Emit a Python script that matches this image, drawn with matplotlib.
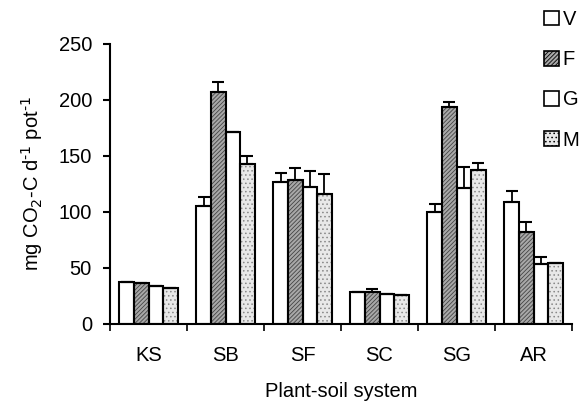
import matplotlib
matplotlib.use("Agg")
import matplotlib.pyplot as plt
import numpy as np
from matplotlib.patches import Patch

plt.rcParams['font.family'] = ['Liberation Sans', 'DejaVu Sans']
plt.rcParams['hatch.linewidth'] = 0.6

systems = ["KS", "SB", "SF", "SC", "SG", "AR"]
series = ["V", "F", "G", "M"]
V = [37.8, 105, 127, 28.3, 100.3, 109]
F = [36.6, 207, 128.6, 28.5, 194, 81.8]
G = [34, 171, 122, 27, 121.7, 53.3]
M = [32.4, 142.6, 115.8, 25.5, 137.5, 54.5]
V_err = [0, 8.7, 7.5, 0, 6.7, 10]
F_err = [0, 9, 11, 3, 4.5, 9]
G_err = [0, 0, 15, 0, 18, 6.7]
M_err = [0, 7.4, 18, 0, 6.5, 0]
yticks = [0, 50, 100, 150, 200, 250]

values = [V, F, G, M]
errors = [V_err, F_err, G_err, M_err]
faces = ['white', '#a8a8a8', 'white', '#e8e8e8']
hatches = [None, '////////', None, '....']
hatchcol = ['black', '#444444', 'black', '#888888']

fig = plt.figure(figsize=(5.79, 4.07), dpi=100)
ax = fig.add_axes([0.19, 0.204, 0.798, 0.688])

x = np.arange(len(systems)) + 0.5
w = 0.19
for i, (vals, errs) in enumerate(zip(values, errors)):
    pos = x + (i - 1.5) * w
    ax.bar(pos, vals, w, color=faces[i], edgecolor=hatchcol[i],
           hatch=hatches[i], linewidth=0, label=series[i], zorder=2)
    ax.bar(pos, vals, w, color='none', edgecolor='black', linewidth=1.5, zorder=3)
    e = np.array(errs)
    ax.errorbar(pos, vals, yerr=[np.zeros_like(e), e], fmt='none', ecolor='black',
                elinewidth=1.3, capsize=4, capthick=1.5, zorder=4)

ax.set_xlim(0, 6)
ax.set_ylim(0, 250)
ax.set_yticks(yticks)
ax.set_xticks(x)
ax.set_xticklabels(systems)
ax.set_xticks(np.arange(0, 7), minor=True)
ax.tick_params(axis='x', which='major', length=0, labelsize=14.5, pad=16)
ax.tick_params(axis='x', which='minor', length=5, width=1.2, direction='out')
ax.tick_params(axis='y', length=5, width=1.5, labelsize=14.5, pad=8)
for s in ['top', 'right']:
    ax.spines[s].set_visible(False)
ax.spines['left'].set_linewidth(1.5)
ax.spines['bottom'].set_linewidth(1.5)
ax.set_ylabel(r"mg CO$_2$-C d$^{\text{-}1}$ pot$^{\text{-}1}$", fontsize=14.5, labelpad=10)
ax.set_xlabel("Plant-soil system", fontsize=14.5, labelpad=12)

handles = []
for i in range(4):
    handles.append(Patch(facecolor=faces[i], edgecolor='black', hatch=hatches[i], linewidth=1.2))
fig.legend(handles, series, loc='upper left', bbox_to_anchor=(0.925, 0.995),
           frameon=False, fontsize=14.5, handlelength=0.75, handleheight=0.75,
           handletextpad=0.2, labelspacing=1.05, borderaxespad=0)

fig.savefig("out.png", dpi=100)
